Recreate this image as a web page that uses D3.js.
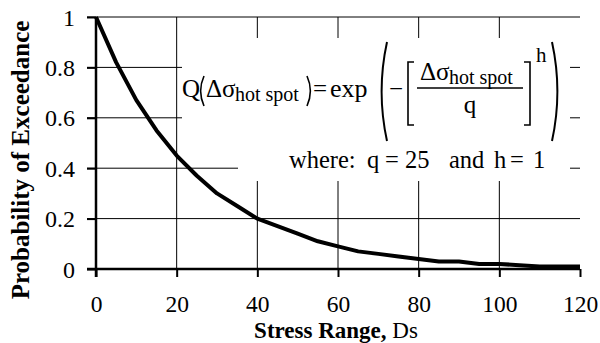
<!DOCTYPE html>
<html><head><meta charset="utf-8">
<script src="https://cdn.jsdelivr.net/npm/d3@7"></script>
<style>
body{margin:0;background:#fff;}
svg{display:block;}
text{font-family:"Liberation Serif","Times New Roman",serif;fill:#000;}
</style></head>
<body>
<svg id="chart" width="600" height="343"></svg>
<script>
// ---- data ----
const stressRange = [0,5,10,15,20,25,30,35,40,45,50,55,60,65,70,75,80,85,90,95,100,105,110,115,120];
const probability = [1.00,0.82,0.67,0.55,0.45,0.37,0.30,0.25,0.20,0.17,0.14,0.11,0.09,0.07,0.06,0.05,0.04,0.03,0.03,0.02,0.02,0.015,0.01,0.01,0.01];
const xTicks = [0,20,40,60,80,100,120];
const xTickLabels = ["0","20","40","60","80","100","120"];
const yTicks = [0,0.2,0.4,0.6,0.8,1];
const yTickLabels = ["0","0.2","0.4","0.6","0.8","1"];
const yTitle = "Probability of Exceedance";
const xTitle = "Stress Range, ";
const xTitleSym = "Ds";

const SERIF = "'Liberation Serif','Times New Roman',serif";
const svg = d3.select("#chart");
const x = d3.scaleLinear().domain([0,120]).range([96,580]);
const y = d3.scaleLinear().domain([0,1]).range([269,17]);

// gridlines
svg.append("g").selectAll("line").data(yTicks.filter(d=>d>0)).join("line")
  .attr("x1", x(0)-9).attr("x2", x(120))
  .attr("y1", d=>y(d)).attr("y2", d=>y(d))
  .attr("stroke","#000").attr("stroke-width",1);
svg.append("g").selectAll("line").data(xTicks.filter(d=>d>0 && d<120)).join("line")
  .attr("x1", d=>x(d)).attr("x2", d=>x(d))
  .attr("y1", y(0)).attr("y2", y(1))
  .attr("stroke","#000").attr("stroke-width",1);

// axes
const xAxis = d3.axisBottom(x).tickValues(xTicks).tickFormat((d,i)=>xTickLabels[i]).tickSize(8).tickSizeOuter(0);
const gx = svg.append("g").attr("transform",`translate(0,${y(0)})`).call(xAxis).attr("font-family",SERIF);
gx.select(".domain").remove();
gx.selectAll(".tick line").attr("stroke-width",2);
gx.selectAll(".tick text").attr("y",43).attr("dy","0").attr("font-family",SERIF).style("font-size","23.5px");

const yAxis = d3.axisLeft(y).tickValues(yTicks).tickFormat((d,i)=>yTickLabels[i]).tickSize(9).tickPadding(12).tickSizeOuter(0);
const gy = svg.append("g").attr("transform",`translate(${x(0)},0)`).call(yAxis).attr("font-family",SERIF);
gy.select(".domain").remove();
gy.selectAll(".tick line").attr("stroke-width",2);
gy.selectAll(".tick text").attr("dy","0.34em").attr("font-family",SERIF).style("font-size","24px");

// axis lines
svg.append("line").attr("x1",x(0)-9).attr("x2",x(120)).attr("y1",y(0)).attr("y2",y(0)).attr("stroke","#000").attr("stroke-width",2.5);
svg.append("line").attr("x1",x(0)).attr("x2",x(0)).attr("y1",y(1)).attr("y2",y(0)+8).attr("stroke","#000").attr("stroke-width",2.5);

// curve
svg.append("path").datum(stressRange.map((s,i)=>[s,probability[i]]))
  .attr("fill","none").attr("stroke","#000").attr("stroke-width",4).attr("stroke-linejoin","round")
  .attr("d", d3.line().x(d=>x(d[0])).y(d=>y(d[1])));

// equation boxes (white)
svg.append("rect").attr("x",182).attr("y",38).attr("width",388).attr("height",112).attr("fill","#fff");
svg.append("rect").attr("x",238).attr("y",150).attr("width",332).attr("height",31).attr("fill","#fff");

const eq = svg.append("g");
const T = (xx,yy,txt,fs,anchor)=>eq.append("text").attr("x",xx).attr("y",yy).attr("font-family",SERIF)
  .attr("text-anchor",anchor||"start").style("font-size",fs+"px").text(txt);
const paren = (x0,top,bot,w,left,sw)=>{
  const dir = left?1:-1;
  const mid=(top+bot)/2;
  eq.append("path").attr("d",`M${x0+dir*w},${top} Q${x0-dir*w*0.35},${mid} ${x0+dir*w},${bot}`)
    .attr("fill","none").attr("stroke","#000").attr("stroke-width",sw||1.6);
};
T(182,97,"Q",25);
paren(199,76,106,5,true);
T(206,97,"Δσ",25);
T(235,101,"hot spot",20);
paren(312,76,106,5,false);
T(313,97,"=",25);
T(330,97,"exp",26);
paren(379,42,141,8,true,2);
T(389,97,"−",25);
// brackets
eq.append("path").attr("d","M414,62 L408,62 L408,125 L414,125").attr("fill","none").attr("stroke","#000").attr("stroke-width",1.6);
eq.append("path").attr("d","M524,62 L530,62 L530,125 L524,125").attr("fill","none").attr("stroke","#000").attr("stroke-width",1.6);
T(420,80,"Δσ",25);
T(449,84,"hot spot",20);
eq.append("line").attr("x1",417).attr("x2",523).attr("y1",88).attr("y2",88).attr("stroke","#000").attr("stroke-width",1.6);
T(470,113,"q",25,"middle");
T(536,62,"h",21);
paren(560,42,141,8,false,2);

T(289,168,"where:",24.5);
T(367,168,"q",24.5);
T(385,168,"=",24.5);
T(405,168,"25",24.5);
T(449,168,"and",24.5);
T(494,168,"h",24.5);
T(510,168,"=",24.5);
T(533,168,"1",24.5);

// titles
svg.append("text").attr("transform","translate(29,160) rotate(-90)").attr("text-anchor","middle").attr("font-family",SERIF)
  .style("font-size","25px").style("font-weight","bold").text(yTitle);
const xt = svg.append("text").attr("x",336).attr("y",337.5).attr("text-anchor","middle").attr("font-family",SERIF).style("font-size","23px");
xt.append("tspan").style("font-weight","bold").text(xTitle);
xt.append("tspan").style("font-weight","normal").text(xTitleSym);
</script>
</body></html>
